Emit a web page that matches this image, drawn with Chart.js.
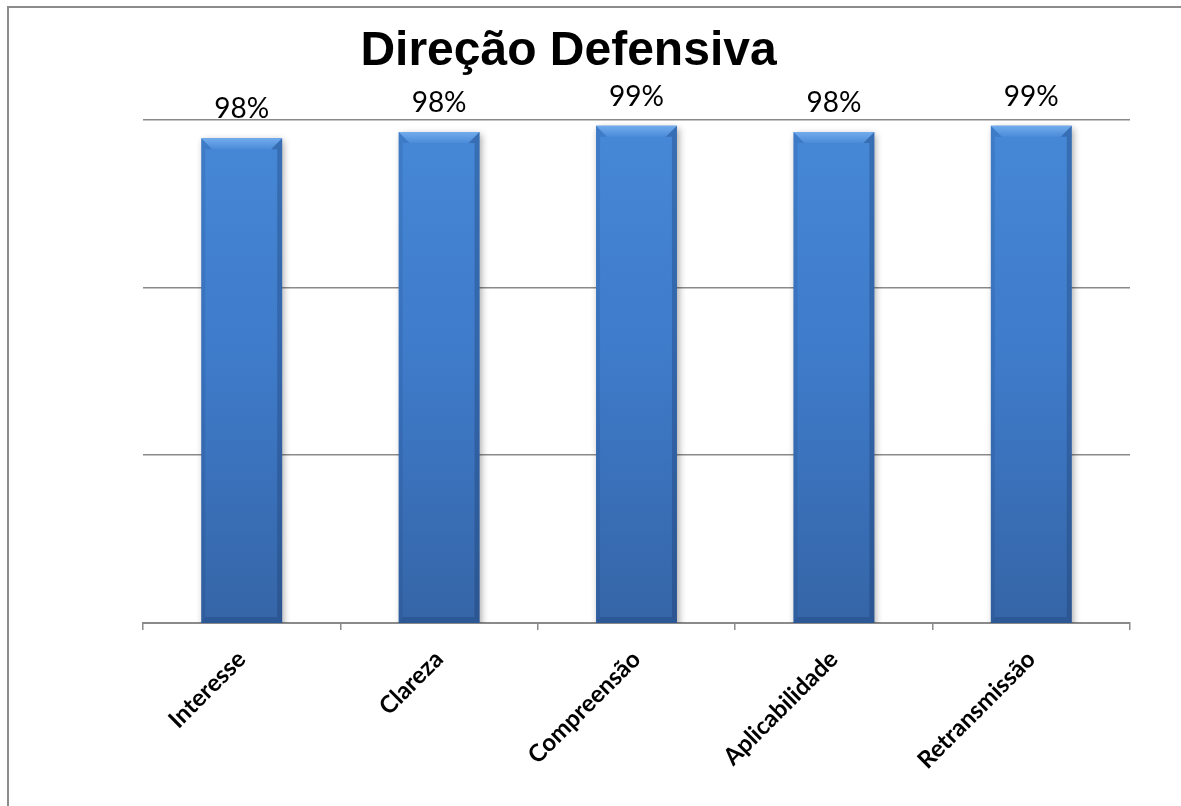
<!DOCTYPE html>
<html>
<head>
<meta charset="utf-8">
<script src="https://cdn.jsdelivr.net/npm/chart.js@4.4.1/dist/chart.umd.min.js"></script>
<style>
  html, body { margin: 0; padding: 0; background: #fff; }
  #wrap { position: relative; width: 1181px; height: 806px; overflow: hidden; }
  #frame {
    position: absolute; left: 7px; top: 6px; width: 1300px; height: 900px;
    border-left: 2px solid #8c8c8c; border-top: 2px solid #8c8c8c;
  }
  canvas { position: absolute; left: 0; top: 0; }
</style>
</head>
<body>
<div id="wrap">
  <div id="frame"></div>
  <canvas id="chart" width="1181" height="806"></canvas>
</div>
<script>
// data
const titleText = 'Direção Defensiva';
const categories = ['Interesse', 'Clareza', 'Compreensão', 'Aplicabilidade', 'Retransmissão'];
const values = [0.976, 0.984, 0.992, 0.984, 0.992];
// hidden value axis (no tick labels are shown, only 4 gridlines)
const axisMin = 0.35;
const axisMax = 1.0;
const gridCount = 4;

const gridGray = '#8a8a8a';

// blue bar body, darker towards the base
function barGradient(context) {
  const area = context.chart.chartArea;
  if (!area) return '#3f7bcb';
  const g = context.chart.ctx.createLinearGradient(0, area.top, 0, area.bottom);
  g.addColorStop(0, '#4688d7');
  g.addColorStop(0.5, '#3e7ac8');
  g.addColorStop(1, '#3565a7');
  return g;
}

// soft drop shadow under the bars
const barShadow = {
  id: 'barShadow',
  beforeDatasetDraw(chart) {
    const ctx = chart.ctx;
    ctx.save();
    ctx.shadowColor = 'rgba(0, 0, 0, 0.35)';
    ctx.shadowBlur = 7;
    ctx.shadowOffsetX = 2;
    ctx.shadowOffsetY = 2;
  },
  afterDatasetDraw(chart) {
    chart.ctx.restore();
  }
};

// bevelled edges + percentage labels above each bar
const barDecor = {
  id: 'barDecor',
  afterDatasetsDraw(chart) {
    const ctx = chart.ctx;
    const meta = chart.getDatasetMeta(0);
    meta.data.forEach((bar, i) => {
      const p = bar.getProps(['x', 'y', 'base', 'width'], true);
      const l = p.x - p.width / 2;
      const r = p.x + p.width / 2;
      const t = p.y;
      const b = Math.min(p.base, chart.chartArea.bottom);
      const bev = 11;

      ctx.save();
      // top bevel, lighter
      let g = ctx.createLinearGradient(0, t, 0, t + bev);
      g.addColorStop(0, '#72acec');
      g.addColorStop(1, '#4b8bd9');
      ctx.fillStyle = g;
      ctx.beginPath();
      ctx.moveTo(l, t);
      ctx.lineTo(r, t);
      ctx.lineTo(r - bev, t + bev);
      ctx.lineTo(l + bev, t + bev);
      ctx.closePath();
      ctx.fill();

      // right edge, darker
      ctx.fillStyle = 'rgba(20, 45, 90, 0.28)';
      ctx.beginPath();
      ctx.moveTo(r, t);
      ctx.lineTo(r, b);
      ctx.lineTo(r - 5, b - 6);
      ctx.lineTo(r - 5, t + bev);
      ctx.lineTo(r - bev, t + bev);
      ctx.closePath();
      ctx.fill();

      // left edge, slightly darker
      ctx.fillStyle = 'rgba(20, 45, 90, 0.12)';
      ctx.beginPath();
      ctx.moveTo(l, t);
      ctx.lineTo(l + bev, t + bev);
      ctx.lineTo(l + 4, t + bev);
      ctx.lineTo(l + 4, b - 6);
      ctx.lineTo(l, b);
      ctx.closePath();
      ctx.fill();

      // bottom edge
      ctx.fillStyle = 'rgba(20, 45, 90, 0.22)';
      ctx.beginPath();
      ctx.moveTo(l, b);
      ctx.lineTo(r, b);
      ctx.lineTo(r - 5, b - 6);
      ctx.lineTo(l + 4, b - 6);
      ctx.closePath();
      ctx.fill();
      ctx.restore();

      // value label
      ctx.save();
      ctx.font = '28px Lato';
      ctx.fillStyle = '#000';
      ctx.textAlign = 'center';
      ctx.textBaseline = 'alphabetic';
      ctx.fillText(Math.round(values[i] * 100) + '%', p.x, t - 20);
      ctx.restore();
    });
  }
};

new Chart(document.getElementById('chart'), {
  type: 'bar',
  data: {
    labels: categories,
    datasets: [{
      data: values,
      backgroundColor: barGradient,
      borderWidth: 0,
      barPercentage: 0.41,
      categoryPercentage: 1.0
    }]
  },
  options: {
    responsive: false,
    animation: false,
    layout: { padding: { left: 7, right: 51, top: 0, bottom: 0 } },
    plugins: {
      legend: { display: false },
      tooltip: { enabled: false },
      title: {
        display: true,
        text: titleText,
        color: '#000',
        font: { family: '"Liberation Sans", Arial, sans-serif', size: 48, weight: 'bold', lineHeight: 1.2 },
        padding: { top: 23, bottom: 39 }
      }
    },
    scales: {
      x: {
        grid: {
          display: true,
          offset: true,
          drawOnChartArea: false,
          drawTicks: true,
          tickLength: 7,
          color: gridGray,
          lineWidth: 1.5
        },
        border: { display: true, color: gridGray, width: 2 },
        ticks: {
          autoSkip: false,
          maxRotation: 45,
          minRotation: 45,
          color: '#000',
          padding: 15,
          font: { family: 'Lato', size: 24, weight: 'bold' }
        },
        afterFit(scale) { scale.height = 183; }
      },
      y: {
        min: axisMin,
        max: axisMax,
        grid: { color: gridGray, lineWidth: 1.5, drawTicks: false },
        border: { display: false },
        ticks: { display: false, count: gridCount },
        afterFit(scale) { scale.width = 136; }
      }
    }
  },
  plugins: [barShadow, barDecor]
});
</script>
</body>
</html>
